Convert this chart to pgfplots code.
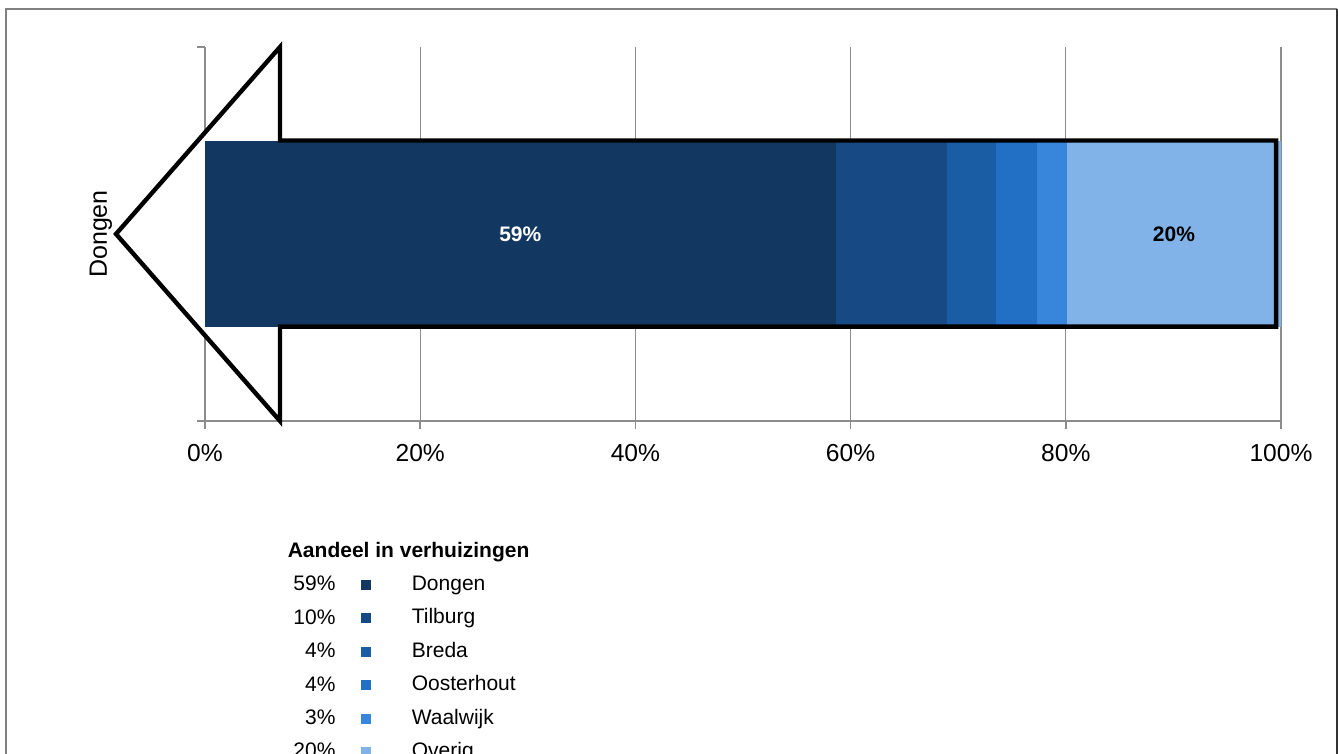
\documentclass[border=0pt]{standalone}
\usepackage{pgfplots}
\pgfplotsset{compat=1.18}
\usepackage{fontspec}
\setmainfont{Liberation Sans}
\definecolor{cDongen}{HTML}{123760}
\definecolor{cTilburg}{HTML}{174A85}
\definecolor{cBreda}{HTML}{1B5DA5}
\definecolor{cOosterhout}{HTML}{2170C6}
\definecolor{cWaalwijk}{HTML}{3786DC}
\definecolor{cOverig}{HTML}{82B3E8}
\definecolor{gridgray}{HTML}{8C8C8C}
\pgfplotsset{
  pctleg/.style={legend image code/.code={%
    \node[anchor=east,inner sep=0pt,font=\fontsize{10.5}{12}\selectfont] at (-12.5pt,-0.2pt) {#1};
    \fill[##1, draw=none] (0pt,-2.5pt) rectangle (5pt,2.5pt);
    \node[inner sep=0pt, outer sep=0pt, minimum size=0pt, draw=none, fill=none] at (25.5pt,0pt) {};
  }},
  common/.style={
    at={(102.5pt,166.5pt)}, anchor=south west,
    scale only axis, width=538pt, height=187pt,
    xmin=0, xmax=100, ymin=-1, ymax=1, clip=false,
  }
}
\newcommand{\arrowpath}{(axis cs:-8.27,0) -- (axis cs:6.97,1.0) -- (axis cs:6.97,0.5) -- (axis cs:99.55,0.5) -- (axis cs:99.55,-0.495) -- (axis cs:6.97,-0.495) -- (axis cs:6.97,-1.0) -- cycle}
\begin{document}
\begin{tikzpicture}
\useasboundingbox (0,0) rectangle (669pt,377pt);
\clip (0,0) rectangle (669pt,377pt);
% outer frame
\draw[gray, line width=0.9pt] (3pt,-5pt) -- (3pt,372.5pt) -- (668.3pt,372.5pt);
\draw[black!80, line width=0.9pt] (668.3pt,372.5pt) -- (668.3pt,-5pt);
% axis, grid, ticks
\begin{axis}[common,
  axis x line=bottom, axis y line=left,
  axis line style={gridgray, line width=0.75pt, -},
  xtick={0,20,40,60,80,100},
  xticklabels={0\%,20\%,40\%,60\%,80\%,100\%},
  xticklabel style={font=\fontsize{12.3}{14}\selectfont, yshift=-4pt},
  ytick={-1,1}, yticklabels={,},
  tick align=outside, major tick length=4pt,
  tick style={gridgray, line width=0.75pt},
  xmajorgrids, grid style={gridgray, line width=0.6pt},
  ylabel={Dongen},
  every axis y label/.style={at={(axis description cs:0,0.5)}, rotate=90, anchor=base, yshift=49pt, font=\fontsize{12.5}{14}\selectfont},
]
\fill[white] \arrowpath;
\end{axis}
% bars
\begin{axis}[common, hide axis,
  xbar stacked, reverse stacked plots=false, bar width=93pt,
  legend style={draw=none, fill=none, at={(41pt,-58pt)}, anchor=north west,
    font=\fontsize{10.5}{12}\selectfont,
    nodes={inner sep=0pt, text height=8pt, text depth=2.5pt},
    row sep=6pt, column sep=0pt},
  legend cell align=left,
]
\addlegendimage{empty legend}
\addlegendentry{\hspace*{-62pt}\textbf{Aandeel in verhuizingen}}
\addplot[fill=cDongen, draw=none, pctleg={59\%}] coordinates {(58.6,0)};
\addlegendentry{Dongen}
\addplot[fill=cTilburg, draw=none, pctleg={10\%}] coordinates {(10.4,0)};
\addlegendentry{Tilburg}
\addplot[fill=cBreda, draw=none, pctleg={4\%}] coordinates {(4.5,0)};
\addlegendentry{Breda}
\addplot[fill=cOosterhout, draw=none, pctleg={4\%}] coordinates {(3.8,0)};
\addlegendentry{Oosterhout}
\addplot[fill=cWaalwijk, draw=none, pctleg={3\%}] coordinates {(2.8,0)};
\addlegendentry{Waalwijk}
\addplot[fill=cOverig, draw=none, pctleg={20\%}] coordinates {(19.9,0)};
\addlegendentry{Overig}
\draw[black, line width=2.2pt, line join=miter] \arrowpath;
\node[white, font=\bfseries\fontsize{10.5}{12}\selectfont] at (axis cs:29.3,0) {59\%};
\node[black, font=\bfseries\fontsize{10.5}{12}\selectfont] at (axis cs:90.05,0) {20\%};
\end{axis}
\end{tikzpicture}
\end{document}
